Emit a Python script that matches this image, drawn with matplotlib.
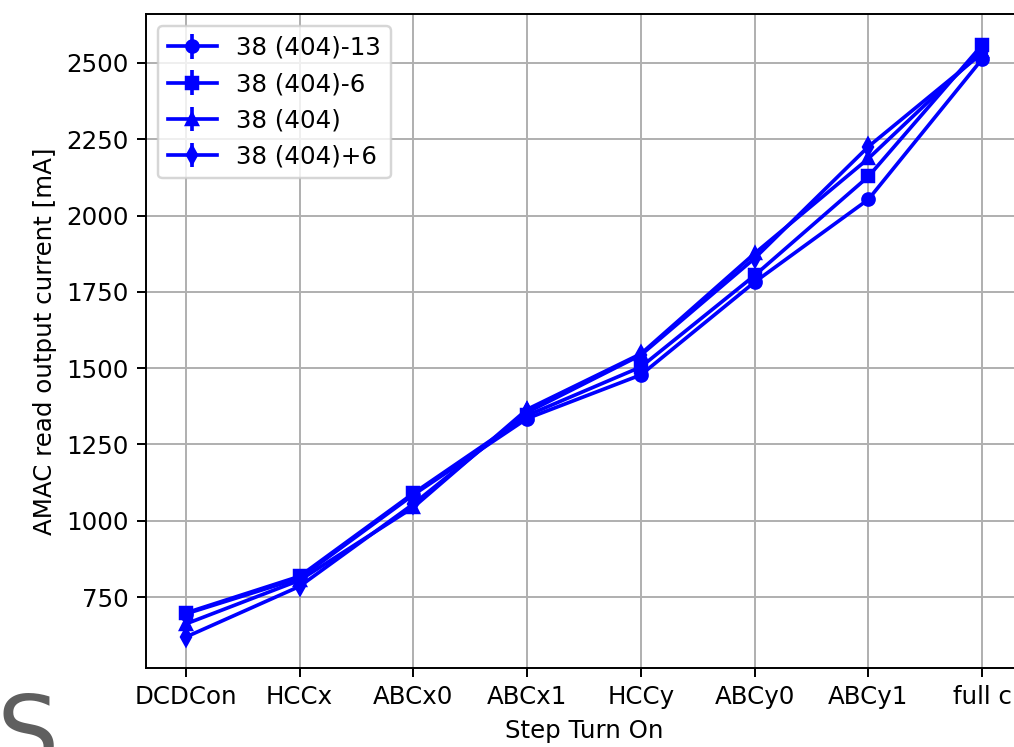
import matplotlib.pyplot as plt

# turn-on sequence and measured AMAC output current for each setting
steps = ['DCDCon', 'HCCx', 'ABCx0', 'ABCx1', 'HCCy', 'ABCy0', 'ABCy1', 'full c']

current_m13 = [695, 812, 1085, 1335, 1478, 1782, 2053, 2513]
current_m6 = [698, 818, 1090, 1345, 1504, 1804, 2128, 2559]
current_0 = [662, 805, 1044, 1365, 1547, 1876, 2187, 2540]
current_p6 = [619, 785, 1055, 1355, 1543, 1860, 2226, 2532]

err_m13 = [4, 4, 4, 4, 4, 4, 4, 4]
err_m6 = [4, 4, 4, 4, 4, 4, 4, 4]
err_0 = [4, 4, 4, 4, 4, 4, 4, 4]
err_p6 = [4, 4, 4, 4, 4, 4, 4, 4]

labels = ['38 (404)-13', '38 (404)-6', '38 (404)', '38 (404)+6']
markers = ['o', 's', '^', 'd']

DPI = 176
fig = plt.figure(figsize=(1015 / DPI, 747 / DPI), dpi=DPI)
ax = fig.add_axes([146 / 1015, 79 / 747, 876 / 1015, 654 / 747])

x = list(range(len(steps)))
series = [(current_m13, err_m13), (current_m6, err_m6),
          (current_0, err_0), (current_p6, err_p6)]
for (vals, errs), lab, mk in zip(series, labels, markers):
    ax.errorbar(x, vals, yerr=errs, marker=mk, markersize=5, color='blue',
                label=lab)

ax.set_xticks(x)
ax.set_xticklabels(steps)
ax.set_xlabel('Step Turn On')
ax.set_ylabel('AMAC read output current [mA]')
ax.grid(True)
ax.legend(loc='upper left')

# large grey letter sitting in the lower left corner, partly off the page
fig.text(-4 / 1015, 1 - 691 / 747, 'S', fontsize=40, color='#5f5f5f',
         ha='left', va='top')

fig.savefig('out.png', dpi=DPI)
